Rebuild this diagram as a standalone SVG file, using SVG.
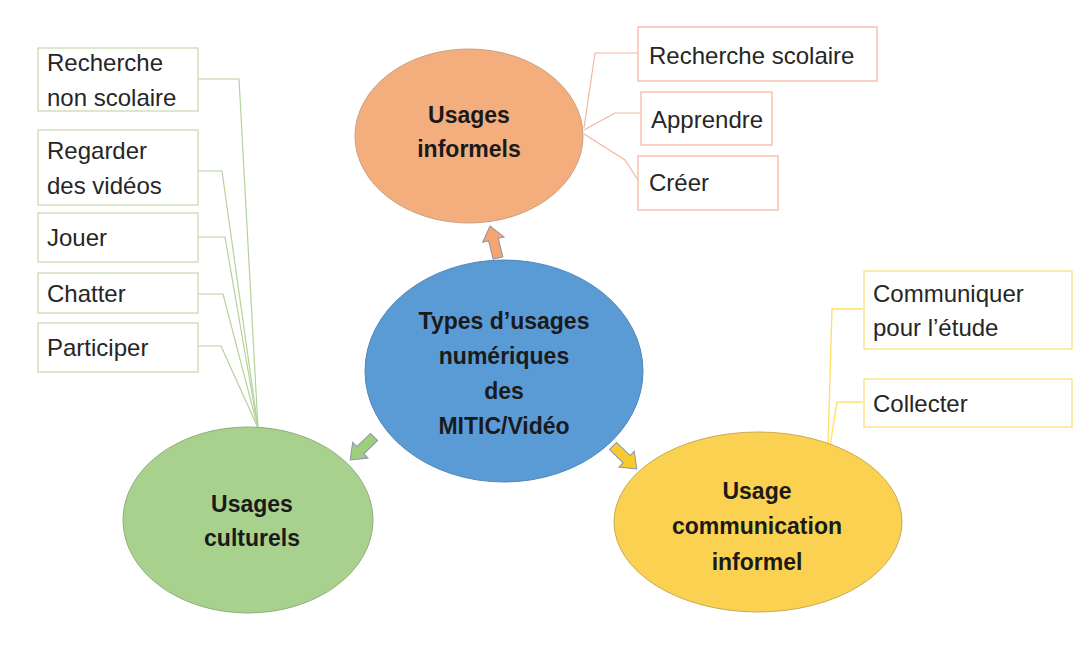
<svg xmlns="http://www.w3.org/2000/svg" width="1090" height="668" viewBox="0 0 1090 668">
<defs>
<style>
.box{fill:#ffffff;stroke-width:1.3}
.gb{stroke:#c9dcae}
.ob{stroke:#f6b8a0}
.yb{stroke:#ffe07a}
.t{font-family:"Liberation Sans",Arial,sans-serif;font-size:24px;fill:#262626}
.b{font-family:"Liberation Sans",Arial,sans-serif;font-size:23px;font-weight:bold;fill:#1a1a1a;text-anchor:middle}
.gl{fill:none;stroke:#b5d29a;stroke-width:1.2}
.ol{fill:none;stroke:#f3b6a4;stroke-width:1.2}
.yl{fill:none;stroke:#ffe16a;stroke-width:1.4}
.arr{stroke:#8a93a8;stroke-width:1}
</style>
<polygon id="ba" points="0,-5 19,-5 19,-11 33,0 19,11 19,5 0,5"/>
</defs>
<rect width="1090" height="668" fill="#ffffff"/>

<g id="connectors">
<polyline class="gl" points="198,79 239,79 258,428"/>
<polyline class="gl" points="198,171 222,171 258,428"/>
<polyline class="gl" points="198,237 225,237 258,428"/>
<polyline class="gl" points="198,294 223,294 258,428"/>
<polyline class="gl" points="198,346 221,346 258,428"/>
<polyline class="ol" points="638,53 595,53 584,128"/>
<polyline class="ol" points="640,113 615,113 584,130"/>
<polyline class="ol" points="638,180 625,160 584,134"/>
<polyline class="yl" points="863,309 832,309 828,446"/>
<polyline class="yl" points="863,402 837,402 830,446"/>
<use href="#ba" transform="translate(498,258) rotate(-104)" fill="#f4a66e" class="arr"/>
<use href="#ba" transform="translate(374,437) rotate(136)" fill="#9fcf7e" class="arr"/>
<use href="#ba" transform="translate(613,446) rotate(44)" fill="#f7cb2e" class="arr"/>
</g>

<g id="informels">
<ellipse cx="469" cy="136" rx="114" ry="87" fill="#f4ad7c" stroke="#c9a07f" stroke-width="1"/>
<text class="b" x="469" y="123">Usages</text>
<text class="b" x="469" y="157">informels</text>
</g>

<g id="center">
<ellipse cx="504" cy="371" rx="139" ry="111" fill="#5b9bd5" stroke="#4f86b8" stroke-width="1"/>
<text class="b" x="504" y="329">Types d’usages</text>
<text class="b" x="504" y="364">numériques</text>
<text class="b" x="504" y="399">des</text>
<text class="b" x="504" y="434">MITIC/Vidéo</text>
</g>

<g id="culturels">
<ellipse cx="248" cy="520" rx="125" ry="93" fill="#a9d18e" stroke="#8fae79" stroke-width="1"/>
<text class="b" x="252" y="512">Usages</text>
<text class="b" x="252" y="546">culturels</text>
</g>

<g id="communication">
<ellipse cx="758" cy="522" rx="144" ry="90" fill="#fad150" stroke="#c8ab55" stroke-width="1"/>
<text class="b" x="757" y="499">Usage</text>
<text class="b" x="757" y="534">communication</text>
<text class="b" x="757" y="570">informel</text>
</g>

<g id="box-recherche-non-scolaire">
<rect class="box gb" x="38" y="48" width="160" height="63"/>
<text class="t" x="47" y="71">Recherche</text>
<text class="t" x="47" y="106">non scolaire</text>
</g>
<g id="box-regarder">
<rect class="box gb" x="38" y="130" width="160" height="75"/>
<text class="t" x="47" y="159">Regarder</text>
<text class="t" x="47" y="194">des vidéos</text>
</g>
<g id="box-jouer">
<rect class="box gb" x="38" y="213" width="160" height="49"/>
<text class="t" x="47" y="246">Jouer</text>
</g>
<g id="box-chatter">
<rect class="box gb" x="38" y="273" width="160" height="40"/>
<text class="t" x="47" y="302">Chatter</text>
</g>
<g id="box-participer">
<rect class="box gb" x="38" y="323" width="160" height="49"/>
<text class="t" x="47" y="356">Participer</text>
</g>

<g id="box-recherche-scolaire">
<rect class="box ob" x="638" y="27" width="239" height="54"/>
<text class="t" x="649" y="64">Recherche scolaire</text>
</g>
<g id="box-apprendre">
<rect class="box ob" x="641" y="92" width="131" height="53"/>
<text class="t" x="651" y="128">Apprendre</text>
</g>
<g id="box-creer">
<rect class="box ob" x="638" y="156" width="140" height="54"/>
<text class="t" x="649" y="191">Créer</text>
</g>

<g id="box-communiquer">
<rect class="box yb" x="864" y="271" width="208" height="78"/>
<text class="t" x="873" y="302">Communiquer</text>
<text class="t" x="873" y="336">pour l’étude</text>
</g>
<g id="box-collecter">
<rect class="box yb" x="864" y="379" width="208" height="48"/>
<text class="t" x="873" y="412">Collecter</text>
</g>
</svg>
